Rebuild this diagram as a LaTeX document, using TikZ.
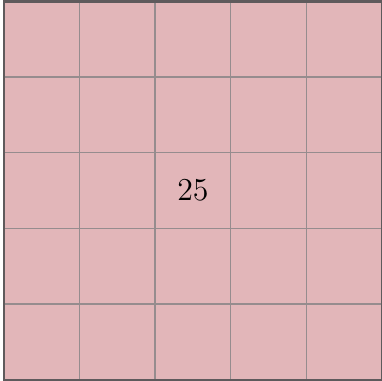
\documentclass[tikz,border=0pt]{standalone}
\usepackage{tikz}
\definecolor{cellpink}{RGB}{226,182,185}
\definecolor{gridgray}{RGB}{150,140,142}
\definecolor{framegray}{RGB}{95,90,92}

\begin{document}
\begin{tikzpicture}[scale=1]
  \useasboundingbox (-0.05,-0.01) rectangle (5.0,5.02);
  % cells
  \fill[cellpink] (0,0) rectangle (5,5);
  \draw[gridgray, line width=0.5pt] (0,0) grid (5,5);
  % frame
  \draw[framegray, line width=0.9pt] (0,0) rectangle (5,5);
  % count
  \node[font=\large] (count) at (2.5,2.5) {$25$};
\end{tikzpicture}
\end{document}
